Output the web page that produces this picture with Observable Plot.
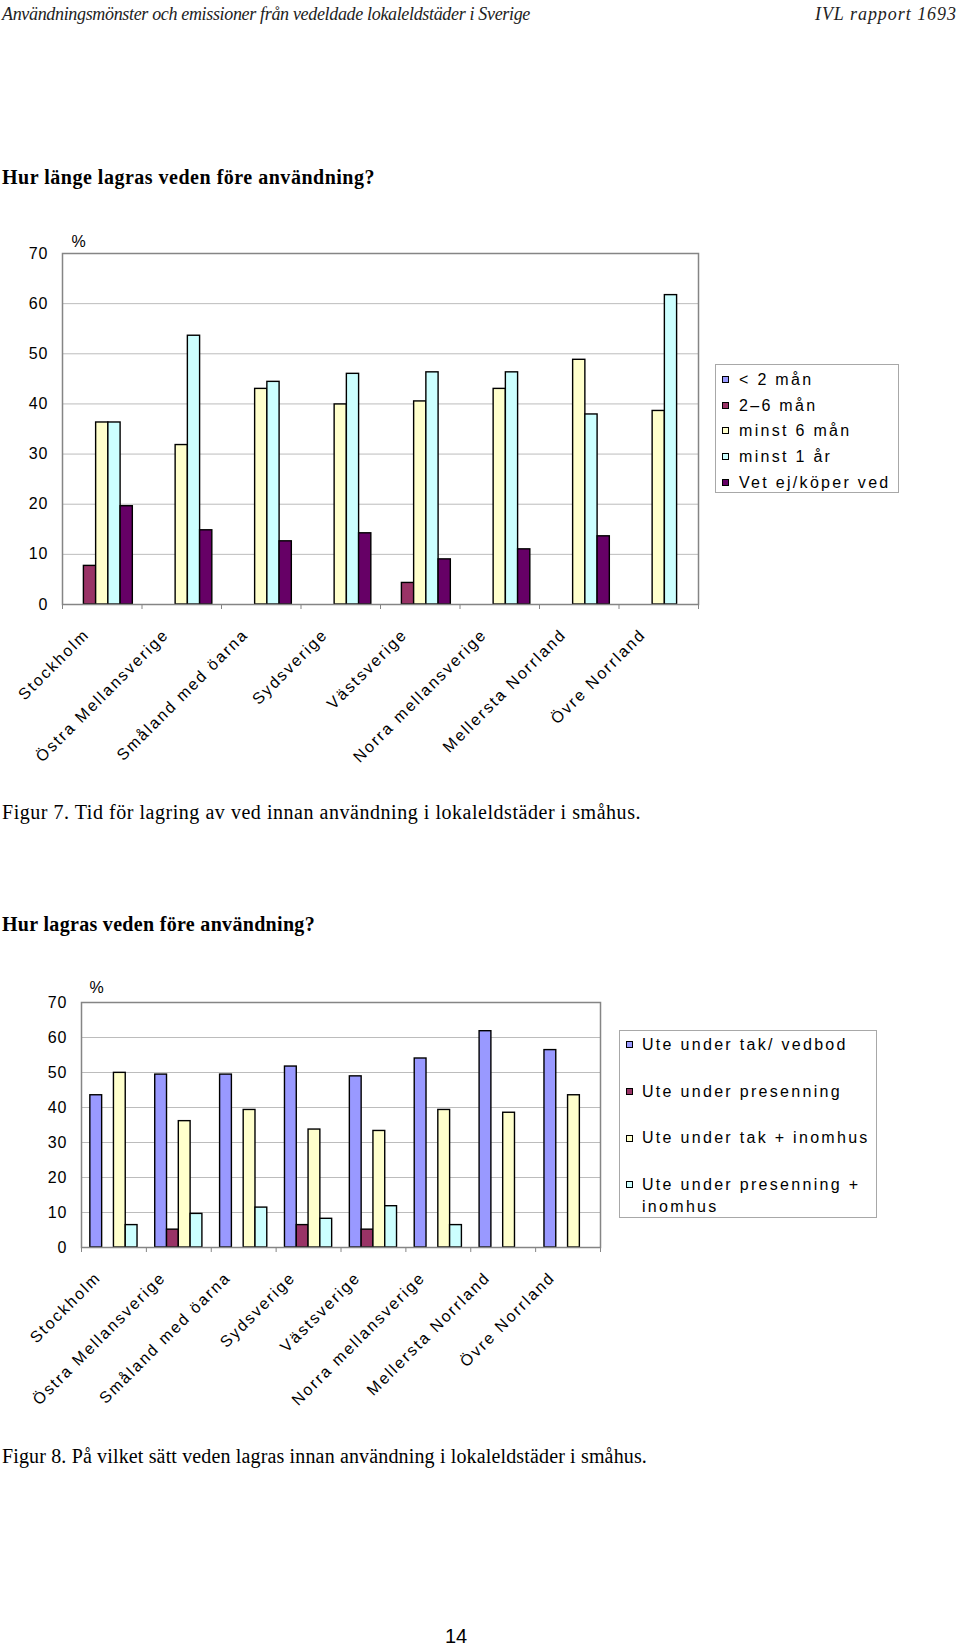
<!DOCTYPE html>
<html>
<head>
<meta charset="utf-8">
<script src="https://cdn.jsdelivr.net/npm/d3@7"></script>
<script src="https://cdn.jsdelivr.net/npm/@observablehq/plot@0.6"></script>
<style>
  html, body { margin: 0; padding: 0; background: #fff; }
  #page { position: relative; width: 960px; height: 1648px; overflow: hidden; background: #fff; color: #000; font-family: "Liberation Serif", "Times New Roman", serif; }
  .t { position: absolute; white-space: nowrap; line-height: 1; }
  .hdr { font-style: italic; font-size: 18px; color: #222; }
  .ttl { font-weight: bold; font-size: 20px; }
  .cap { font-size: 20px; }
  .pg { font-family: "Liberation Sans", Arial, sans-serif; font-size: 20px; }
  .chart { position: absolute; left: 0; }
  .chart svg { overflow: visible; }
  .legend { position: absolute; border: 1px solid #a8a8a8; background: #fff; font-family: "Liberation Sans", Arial, sans-serif; font-size: 16px; letter-spacing: 2.3px; box-sizing: border-box; }
  .sw { position: absolute; width: 5px; height: 5px; border: 1px solid #000; }
</style>
</head>
<body>
<div id="page"></div>
<script>
// ---------- data ----------
const regions = ["Stockholm", "Östra Mellansverige", "Småland med öarna", "Sydsverige", "Västsverige", "Norra mellansverige", "Mellersta Norrland", "Övre Norrland"];
const yTicks = [0, 10, 20, 30, 40, 50, 60, 70];

// Figur 7 – Hur länge lagras veden före användning? (%)
const series7 = ["< 2 mån", "2–6 mån", "minst 6 mån", "minst 1 år", "Vet ej/köper ved"];
const colors7 = ["#9999ff", "#993366", "#ffffcc", "#ccffff", "#660066"];
const under2man = [0, 0, 0, 0, 0, 0, 0, 0];
const man2to6 = [7.7, 0, 0, 0, 4.3, 0, 0, 0];
const minst6man = [36.3, 31.8, 43.0, 39.9, 40.5, 43.0, 48.8, 38.6];
const minst1ar = [36.3, 53.6, 44.4, 46.0, 46.3, 46.3, 37.9, 61.7];
const vetEj = [19.6, 14.8, 12.6, 14.2, 9.0, 11.0, 13.6, 0];

// Figur 8 – Hur lagras veden före användning? (%)
const series8 = ["Ute under tak/ vedbod", "Ute under presenning", "Ute under tak + inomhus", "Ute under presenning + inomhus"];
const colors8 = ["#9999ff", "#993366", "#ffffcc", "#ccffff"];
const takVedbod = [43.5, 49.4, 49.4, 51.7, 48.9, 54.0, 61.8, 56.4];
const presenning = [0, 5.1, 0, 6.4, 5.1, 0, 0, 0];
const takInomhus = [49.9, 36.1, 39.3, 33.7, 33.3, 39.3, 38.5, 43.5];
const presInomhus = [6.4, 9.6, 11.4, 8.2, 11.8, 6.4, 0, 0];

// ---------- page text ----------
const page = document.getElementById("page");
function addText(cls, txt, style, fitWidth) {
  const d = document.createElement("div");
  d.className = "t " + cls;
  d.textContent = txt;
  Object.assign(d.style, style);
  page.appendChild(d);
  if (fitWidth) {
    const w = d.getBoundingClientRect().width;
    d.style.letterSpacing = ((fitWidth - w) / txt.length) + "px";
  }
  return d;
}
addText("hdr", "Användningsmönster och emissioner från vedeldade lokaleldstäder i Sverige", {left: "2px", top: "5px"}, 528);
addText("hdr", "IVL rapport  1693", {right: "3px", top: "5px"}, 143);
addText("ttl", "Hur länge lagras veden före användning?", {left: "2px", top: "167px"}, 373);
addText("cap", "Figur 7. Tid för lagring av ved innan användning i lokaleldstäder i småhus.", {left: "2px", top: "802px"}, 639);
addText("ttl", "Hur lagras veden före användning?", {left: "2px", top: "914px"}, 313);
addText("cap", "Figur 8. På vilket sätt veden lagras innan användning i lokaleldstäder i småhus.", {left: "2px", top: "1446px"}, 645);
addText("pg", "14", {left: "445px", top: "1626px"});

// ---------- chart builder ----------
function groupedChart({series, colors, values, top, height, marginLeft, marginRight, marginTop, marginBottom, padInner, pctDx, pctDy}) {
  const n = regions.length;
  const outer = d3.scaleBand(regions, [0, n]).paddingInner(padInner).paddingOuter(padInner / 2);
  const inner = d3.scaleBand(series, [0, outer.bandwidth()]);
  const data = [];
  series.forEach((s, j) => values[j].forEach((v, i) => {
    if (v > 0) data.push({region: regions[i], series: s, value: v});
  }));
  const chart = Plot.plot({
    width: 960,
    height,
    marginLeft, marginRight, marginTop, marginBottom,
    style: {fontFamily: "'Liberation Sans', Arial, sans-serif", background: "transparent", color: "#000"},
    x: {domain: [0, n], axis: null},
    y: {domain: [0, 70], axis: null},
    color: {domain: series, range: colors},
    marks: [
      Plot.ruleY(yTicks.slice(1, -1), {stroke: "#bcbcbc", strokeWidth: 1}),
      Plot.rectY(data, {
        x1: d => outer(d.region) + inner(d.series),
        x2: d => outer(d.region) + inner(d.series) + inner.bandwidth(),
        y1: 0,
        y2: "value",
        fill: "series",
        stroke: "#000",
        strokeWidth: 1.4
      }),
      Plot.frame({stroke: "#858585", strokeWidth: 1.5}),
      Plot.axisY({ticks: yTicks, tickSize: 0, tickPadding: 14, fontSize: 16, label: null}),
      Plot.axisX({ticks: d3.range(n + 1), tickSize: 5, tickFormat: () => "", stroke: "#858585", label: null}),
      Plot.text(regions, {
        x: (d, i) => outer(d) + outer.bandwidth() / 2,
        frameAnchor: "bottom",
        text: d => d,
        rotate: -45,
        textAnchor: "end",
        dx: -12,
        dy: 31,
        fontSize: 16
      }),
      Plot.text(["%"], {frameAnchor: "top-left", text: d => d, dx: pctDx, dy: pctDy, fontSize: 16})
    ]
  });
  chart.querySelectorAll('g[aria-label="text"] text').forEach(t => t.style.letterSpacing = "2px");
  chart.querySelectorAll('g[aria-label="y-axis tick label"] text').forEach(t => t.style.letterSpacing = "1px");
  const wrap = document.createElement("div");
  wrap.className = "chart";
  wrap.style.top = top + "px";
  wrap.appendChild(chart);
  page.appendChild(wrap);
}

function legend({series, colors, left, top, width, height, padTop, itemStep, lineHeight, textLeft, textWidth}) {
  const box = document.createElement("div");
  box.className = "legend";
  Object.assign(box.style, {left: left + "px", top: top + "px", width: width + "px", height: height + "px"});
  series.forEach((s, i) => {
    const it = document.createElement("div");
    Object.assign(it.style, {position: "absolute", left: textLeft + "px", top: (padTop + i * itemStep) + "px", lineHeight: lineHeight + "px", width: textWidth + "px", whiteSpace: "normal"});
    const sw = document.createElement("div");
    sw.className = "sw";
    Object.assign(sw.style, {background: colors[i], left: (-textLeft + 6) + "px", top: (lineHeight / 2 - 3.5) + "px"});
    it.appendChild(sw);
    it.appendChild(document.createTextNode(s));
    box.appendChild(it);
  });
  page.appendChild(box);
}

// Figur 7
groupedChart({
  series: series7, colors: colors7,
  values: [under2man, man2to6, minst6man, minst1ar, vetEj],
  top: 230, height: 530, marginLeft: 62, marginRight: 262, marginTop: 23, marginBottom: 156,
  padInner: 0.2308, pctDx: 9, pctDy: -18
});
legend({series: series7, colors: colors7, left: 715, top: 364, width: 184, height: 129,
  padTop: 3, itemStep: 25.7, lineHeight: 23, textLeft: 23, textWidth: 160});

// Figur 8
groupedChart({
  series: series8, colors: colors8,
  values: [takVedbod, presenning, takInomhus, presInomhus],
  top: 975, height: 395, marginLeft: 81, marginRight: 360, marginTop: 27, marginBottom: 123,
  padInner: 0.2727, pctDx: 8, pctDy: -21
});
legend({series: series8, colors: colors8, left: 619, top: 1030, width: 258, height: 188,
  padTop: 3, itemStep: 46.7, lineHeight: 21.7, textLeft: 22, textWidth: 234});
</script>
</body>
</html>
